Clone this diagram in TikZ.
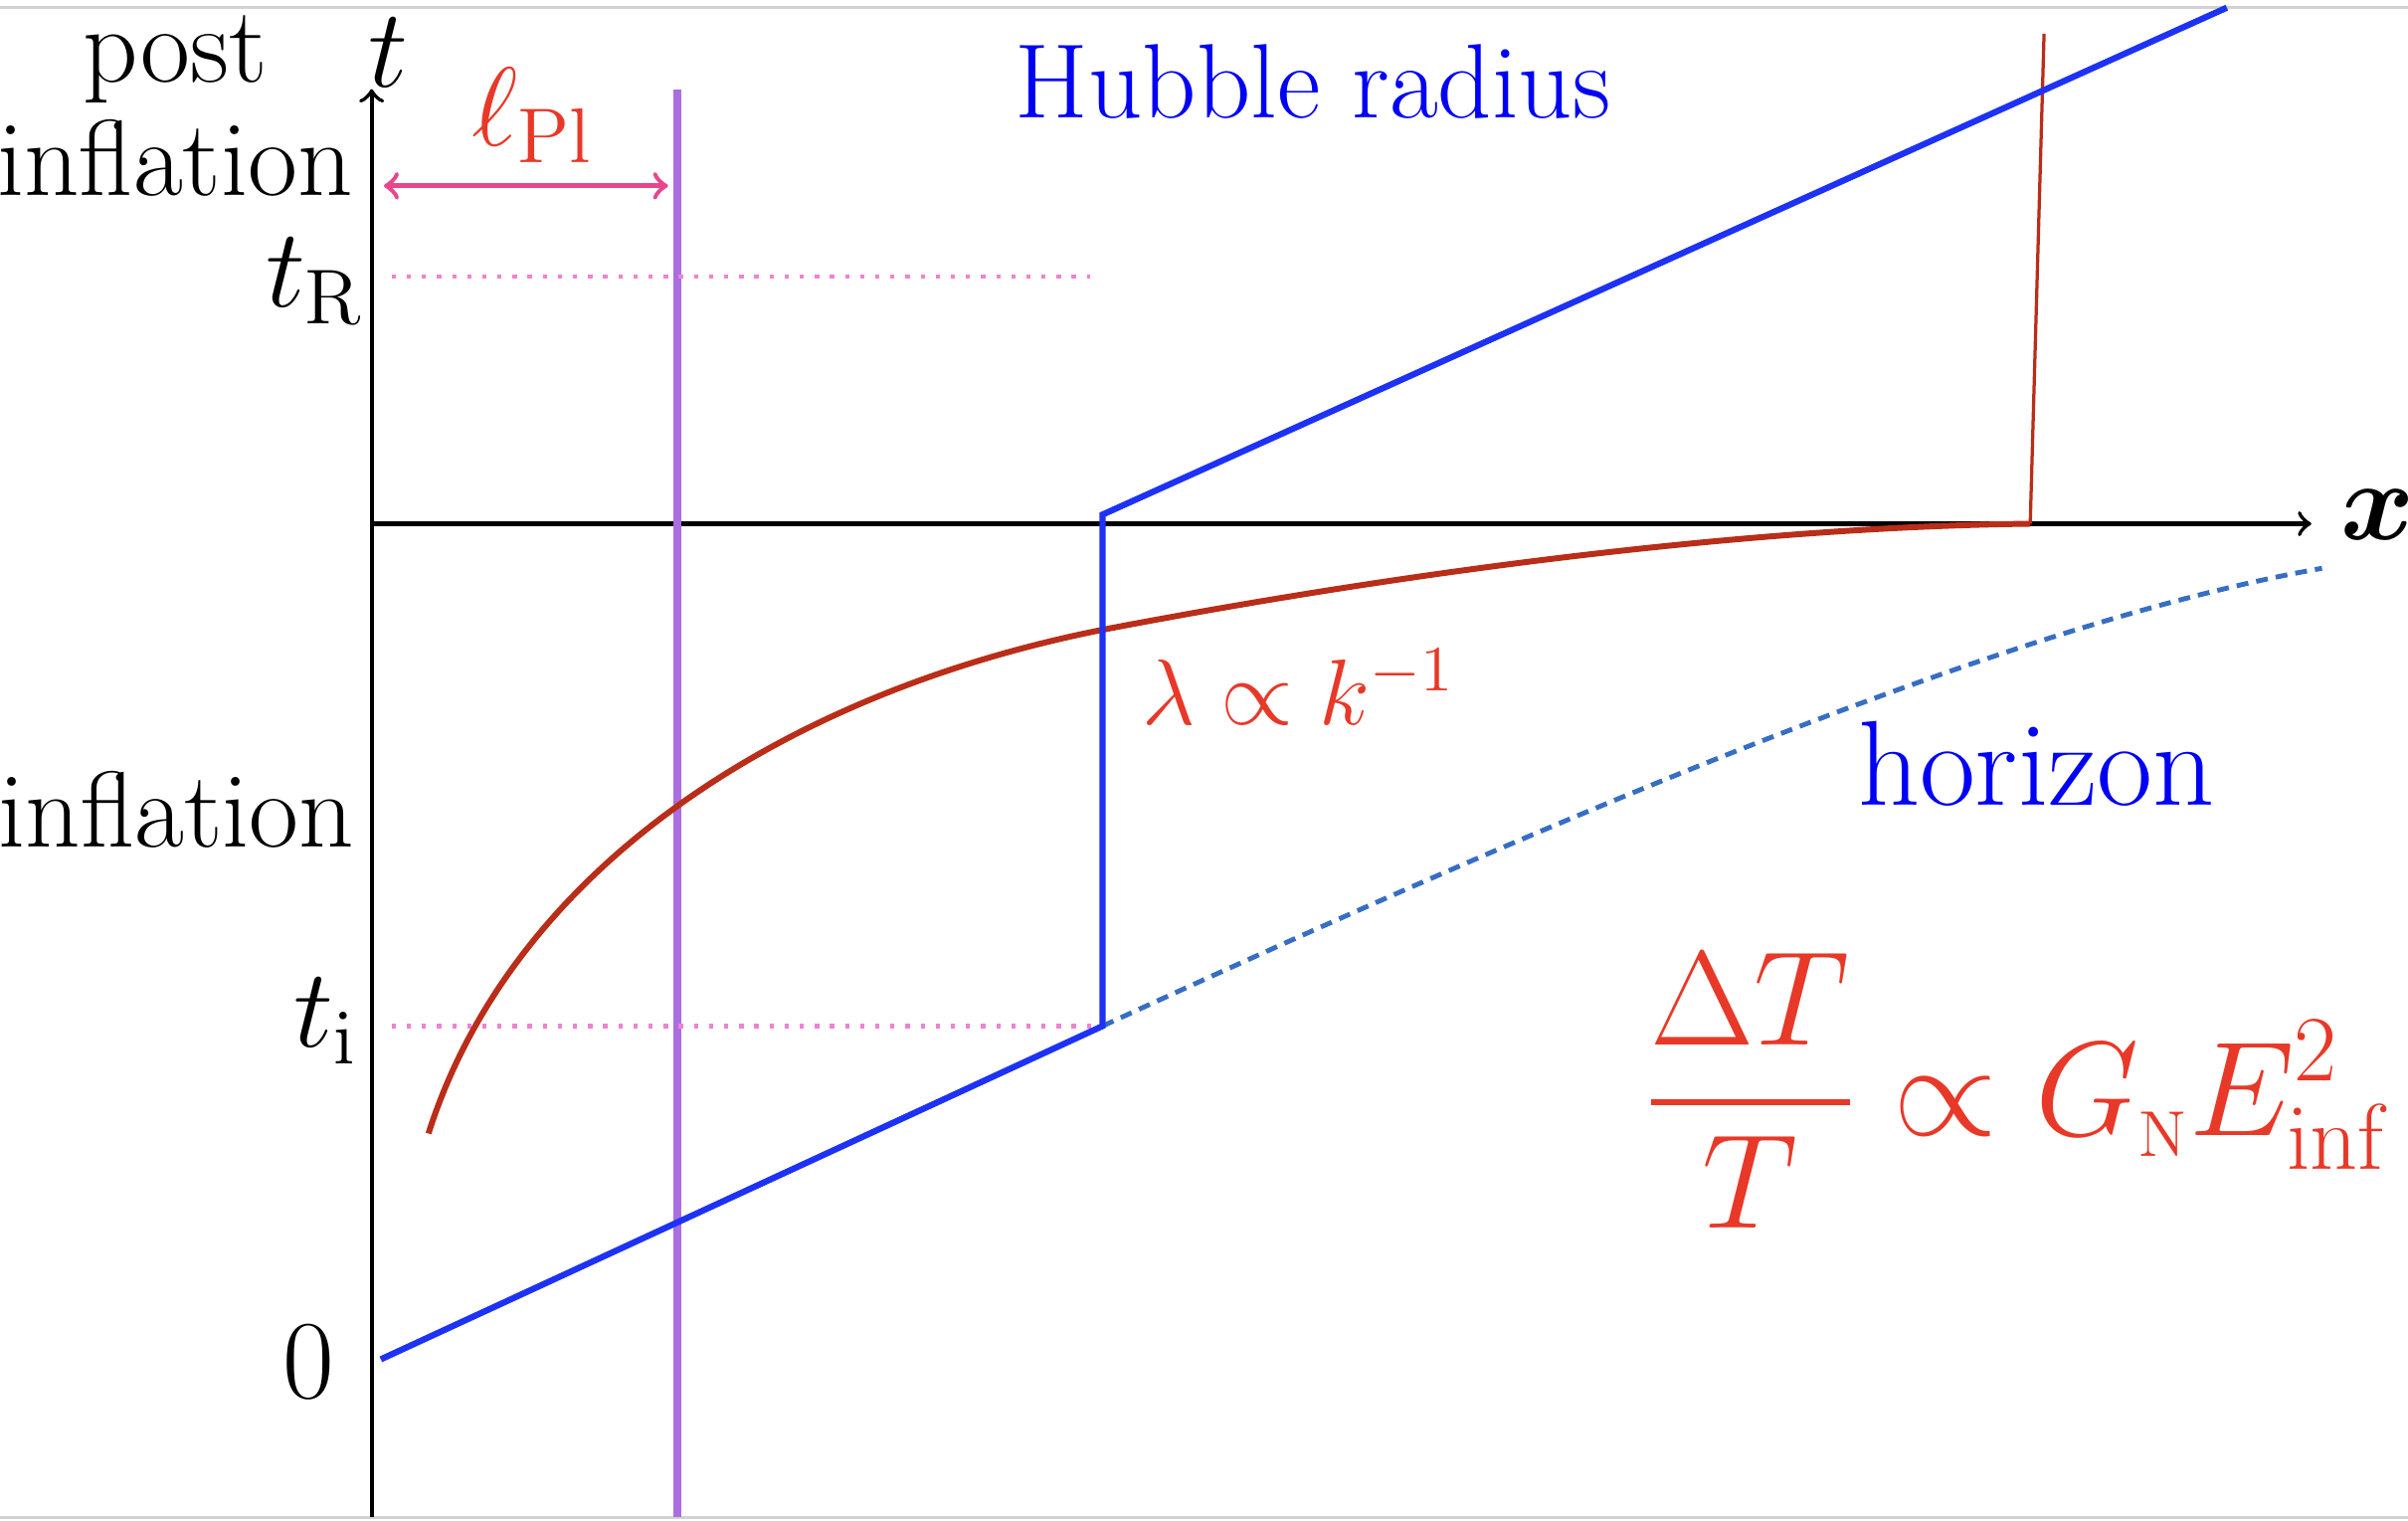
\documentclass[tikz,border=0pt]{standalone}
\usepackage{amsmath,amssymb}
\usepackage{tikz}
\usepackage{xcolor}
\definecolor{lblred}{RGB}{232,56,40}
\definecolor{lblblue}{RGB}{0,0,245}
\definecolor{hubblue}{RGB}{30,50,245}
\definecolor{wavered}{RGB}{185,45,25}
\definecolor{plpurple}{RGB}{170,110,225}
\definecolor{plpink}{RGB}{232,70,140}
\definecolor{dotpink}{RGB}{240,130,210}
\definecolor{horblue}{RGB}{55,110,195}

\begin{document}
\begin{tikzpicture}[x=1cm,font=\fontsize{20}{21}\selectfont,inner sep=0pt,
  tline/.style={dotpink,dotted,line width=0.8pt}]
\useasboundingbox (-2.42,-6.49) rectangle (13.26,3.41);
\draw[gray!35,line width=0.6pt] (-2.42,3.36) -- (13.26,3.36);
\draw[gray!35,line width=0.6pt] (-2.42,-6.47) -- (13.26,-6.47);
\coordinate (O) at (0,0);
\coordinate (tbot) at (0,-6.47);
\coordinate (ttop) at (0,2.83);
\coordinate (xend) at (12.63,0);
\draw[line width=0.75pt,->] (tbot) -- (ttop);
\draw[line width=0.75pt,->] (O) -- (xend);
\node (tlab) at (0.11,3.07) {$t$};
\node (xlab) at (13.06,0.06) {$\boldsymbol{x}$};
\node[align=center] (postinf) at (-1.28,2.72) {post\\inflation};
\node (inf) at (-1.27,-1.86) {inflation};
\node (tR) at (-0.37,1.58) {$t_{\mathrm{R}}$};
\node (ti) at (-0.30,-3.24) {$t_{\mathrm{i}}$};
\node (zero) at (-0.41,-5.46) {$0$};
\coordinate (pltop) at (1.99,2.83);
\coordinate (plbot) at (1.99,-6.47);
\draw[plpurple,line width=1.4pt] (pltop) -- (plbot);
\coordinate (arl) at (0.08,2.2);
\coordinate (arr) at (1.93,2.2);
\draw[plpink,line width=0.9pt,<->] (arl) -- (arr);
\node[text=lblred] (lpl) at (1.05,2.66) {$\ell_{\mathrm{Pl}}$};
\coordinate (h0) at (0.06,-5.44);
\coordinate (hi) at (4.76,-3.27);
\coordinate (hx) at (4.76,0.06);
\coordinate (htop) at (12.08,3.36);
\draw[tline] (0.13,1.61) -- (4.68,1.61);
\draw[tline] (0.13,-3.27) -- (hi);
\draw[horblue,line width=0.9pt,dash pattern=on 2.2pt off 1.5pt] (hi) .. controls (7.76,-1.89) and (10.7,-0.64) .. (12.70,-0.29);
\coordinate (w0) at (0.37,-3.97);
\coordinate (wend) at (10.80,0);
\coordinate (wtop) at (10.89,3.19);
\draw[wavered,line width=1.1pt] (w0) .. controls (0.9,-2.3) and (2.6,-1.12) .. (4.76,-0.69) .. controls (6.8,-0.3) and (9,-0.02) .. (wend);
\draw[wavered,line width=0.6pt] (wend) -- (wtop);
\draw[hubblue,line width=1.15pt] (h0) -- (hi) -- (hx) -- (htop);
\node[text=lblred,font=\fontsize{16.7}{19}\selectfont,anchor=west] (lam) at (5.01,-1.06) {$\lambda\propto k^{-1}$};
\node[text=lblblue,font=\fontsize{19.6}{21}\selectfont] (hub) at (6.13,2.88) {Hubble radius};
\node[text=lblblue,font=\fontsize{22.4}{24}\selectfont] (hor) at (10.84,-1.56) {horizon};
\node[text=lblred,font=\fontsize{26}{30}\selectfont] (dT) at (10.72,-3.69) {$\displaystyle\frac{\Delta T}{T}\propto G_{\scriptscriptstyle\mathrm{N}}E^2_{\mathrm{inf}}$};
\end{tikzpicture}
\end{document}
